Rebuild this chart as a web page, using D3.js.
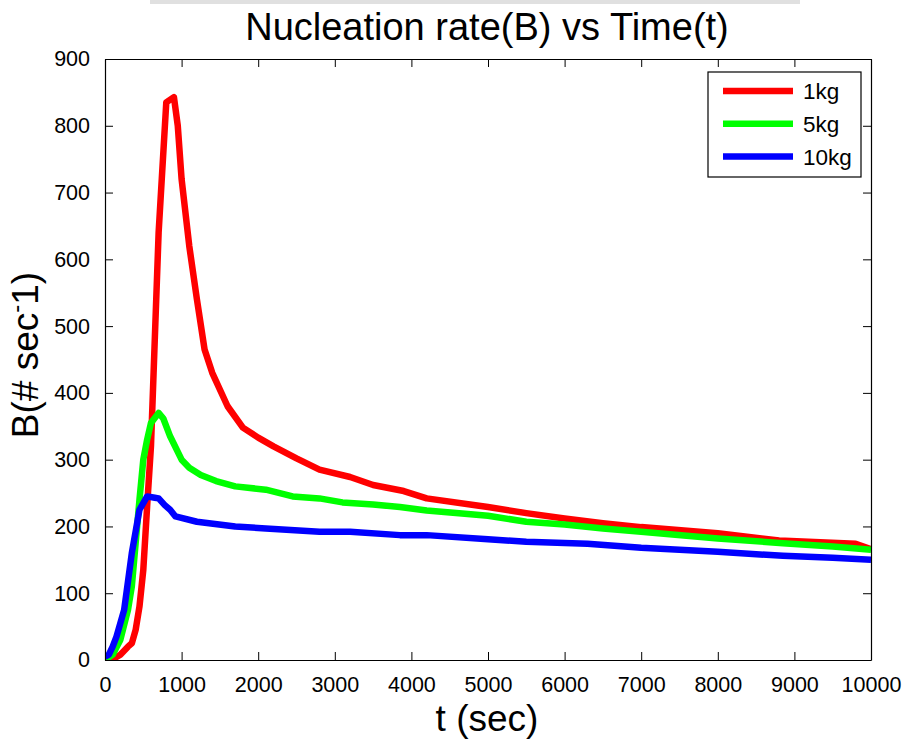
<!DOCTYPE html>
<html>
<head>
<meta charset="utf-8">
<script src="https://cdn.jsdelivr.net/npm/d3@7"></script>
<style>
  html, body { margin: 0; padding: 0; background: #fff; }
  svg { display: block; }
  text { font-family: "Liberation Sans", Arial, Helvetica, sans-serif; fill: #000; }
</style>
</head>
<body>
<svg id="chart" width="911" height="742"></svg>
<script>
// Nucleation rate B (# per second) against time t (seconds) for three batch sizes
const seriesNames = ["1kg", "5kg", "10kg"];
const seriesColors = ["#ff0000", "#00ff00", "#0000ff"];

const time1kg = [0, 100, 200, 300, 350, 400, 450, 500, 550, 600, 650, 700, 800, 900, 950, 1000, 1100, 1200, 1300, 1400, 1600, 1800, 2000, 2200, 2500, 2800, 3200, 3500, 3900, 4200, 5000, 5500, 6000, 6500, 7000, 8000, 8800, 9800, 10000];
const rate1kg = [0, 1, 8, 20, 25, 45, 80, 135, 230, 320, 480, 640, 835, 843, 800, 720, 620, 540, 465, 430, 380, 348, 333, 320, 302, 285, 274, 262, 253, 242, 229, 220, 212, 205, 199, 190, 179, 174, 166];

const time5kg = [0, 100, 200, 300, 350, 400, 450, 500, 550, 600, 700, 760, 850, 1000, 1100, 1250, 1450, 1700, 2100, 2450, 2800, 3100, 3500, 3850, 4200, 5000, 5500, 6000, 6500, 7000, 8000, 8850, 9500, 10000];
const rate5kg = [0, 8, 30, 75, 110, 175, 240, 300, 330, 355, 370, 362, 335, 300, 288, 277, 268, 260, 255, 245, 242, 236, 233, 229, 224, 216, 207, 203, 197, 192, 182, 175, 170, 165];

const time10kg = [0, 50, 100, 150, 250, 350, 450, 550, 650, 700, 780, 850, 920, 1200, 1700, 2100, 2800, 3200, 3850, 4200, 5000, 5500, 6300, 7000, 8000, 8850, 9500, 10000];
const rate10kg = [5, 8, 20, 35, 75, 160, 225, 245, 243, 242, 232, 225, 215, 207, 200, 197, 192, 192, 187, 187, 181, 177, 174, 168, 162, 156, 153, 150];

const xTicks = [0, 1000, 2000, 3000, 4000, 5000, 6000, 7000, 8000, 9000, 10000];
const yTicks = [0, 100, 200, 300, 400, 500, 600, 700, 800, 900];

const titleText = "Nucleation rate(B) vs Time(t)";
const xLabelText = "t (sec)";

const series = [
  { name: seriesNames[0], color: seriesColors[0], t: time1kg, b: rate1kg },
  { name: seriesNames[1], color: seriesColors[1], t: time5kg, b: rate5kg },
  { name: seriesNames[2], color: seriesColors[2], t: time10kg, b: rate10kg }
];

const svg = d3.select("#chart");
const plot = { left: 105, right: 871, top: 59, bottom: 660 };

const x = d3.scaleLinear().domain([0, 10000]).range([plot.left, plot.right]);
const y = d3.scaleLinear().domain([0, 900]).range([plot.bottom, plot.top]);

// clip region for the data lines
svg.append("defs").append("clipPath").attr("id", "plotClip")
  .append("rect")
  .attr("x", plot.left).attr("y", plot.top)
  .attr("width", plot.right - plot.left).attr("height", plot.bottom - plot.top);

// faint grey strip along the very top edge
svg.append("rect")
  .attr("x", 150).attr("y", 0).attr("width", 650).attr("height", 4)
  .attr("fill", "#d8d8d8").attr("opacity", 0.8);

// data lines
const line = d3.line().x(d => x(d[0])).y(d => y(d[1]));
const linesG = svg.append("g").attr("clip-path", "url(#plotClip)");
series.forEach(s => {
  const pts = s.t.map((t, i) => [t, s.b[i]]);
  linesG.append("path")
    .datum(pts)
    .attr("d", line)
    .attr("fill", "none")
    .attr("stroke", s.color)
    .attr("stroke-width", 6.5)
    .attr("stroke-linejoin", "round")
    .attr("stroke-linecap", "butt");
});

// axes with inward ticks on all four sides
const tickLen = 8;
const fontTick = 21.5;
const axBottom = d3.axisBottom(x).tickValues(xTicks).tickSizeInner(-tickLen).tickSizeOuter(0).tickPadding(tickLen + 9).tickFormat(d3.format("d"));
const axTop = d3.axisTop(x).tickValues(xTicks).tickSizeInner(-tickLen).tickSizeOuter(0).tickFormat("");
const axLeft = d3.axisLeft(y).tickValues(yTicks).tickSizeInner(-tickLen).tickSizeOuter(0).tickPadding(tickLen + 7).tickFormat(d3.format("d"));
const axRight = d3.axisRight(y).tickValues(yTicks).tickSizeInner(-tickLen).tickSizeOuter(0).tickFormat("");

function styleAxis(g) {
  g.selectAll("path.domain").attr("stroke", "#000").attr("stroke-width", 1.2);
  g.selectAll(".tick line").attr("stroke", "#000").attr("stroke-width", 1);
  g.selectAll(".tick text").attr("font-size", fontTick).attr("fill", "#000")
    .style("font-family", "'Liberation Sans', Arial, sans-serif");
}

svg.append("g").attr("transform", `translate(0,${plot.bottom})`).call(axBottom).call(styleAxis);
svg.append("g").attr("transform", `translate(0,${plot.top})`).call(axTop).call(styleAxis);
svg.append("g").attr("transform", `translate(${plot.left},0)`).call(axLeft).call(styleAxis);
svg.append("g").attr("transform", `translate(${plot.right},0)`).call(axRight).call(styleAxis);

// title
svg.append("text")
  .attr("x", (plot.left + plot.right) / 2 - 1).attr("y", 40)
  .attr("text-anchor", "middle").attr("font-size", 38)
  .text(titleText);

// x label
svg.append("text")
  .attr("x", (plot.left + plot.right) / 2 - 1).attr("y", 731)
  .attr("text-anchor", "middle").attr("font-size", 37)
  .text(xLabelText);

// y label with superscript exponent
const yl = svg.append("text")
  .attr("transform", "translate(38,355) rotate(-90)")
  .attr("text-anchor", "middle").attr("font-size", 37);
yl.append("tspan").text("B(# sec");
yl.append("tspan").attr("font-size", 24).attr("dy", -14).text("-");
yl.append("tspan").attr("dy", 14).text("1)");

// legend
const leg = { x: 708, y: 72, w: 153, h: 105 };
svg.append("rect")
  .attr("x", leg.x).attr("y", leg.y).attr("width", leg.w).attr("height", leg.h)
  .attr("fill", "#fff").attr("stroke", "#000").attr("stroke-width", 1.2);
series.forEach((s, i) => {
  const cy = 91 + i * 32.8;
  svg.append("line")
    .attr("x1", 723).attr("x2", 793).attr("y1", cy).attr("y2", cy)
    .attr("stroke", s.color).attr("stroke-width", 6.5);
  svg.append("text")
    .attr("x", 803).attr("y", cy + 8)
    .attr("font-size", 22.5)
    .text(s.name);
});
</script>
</body>
</html>
